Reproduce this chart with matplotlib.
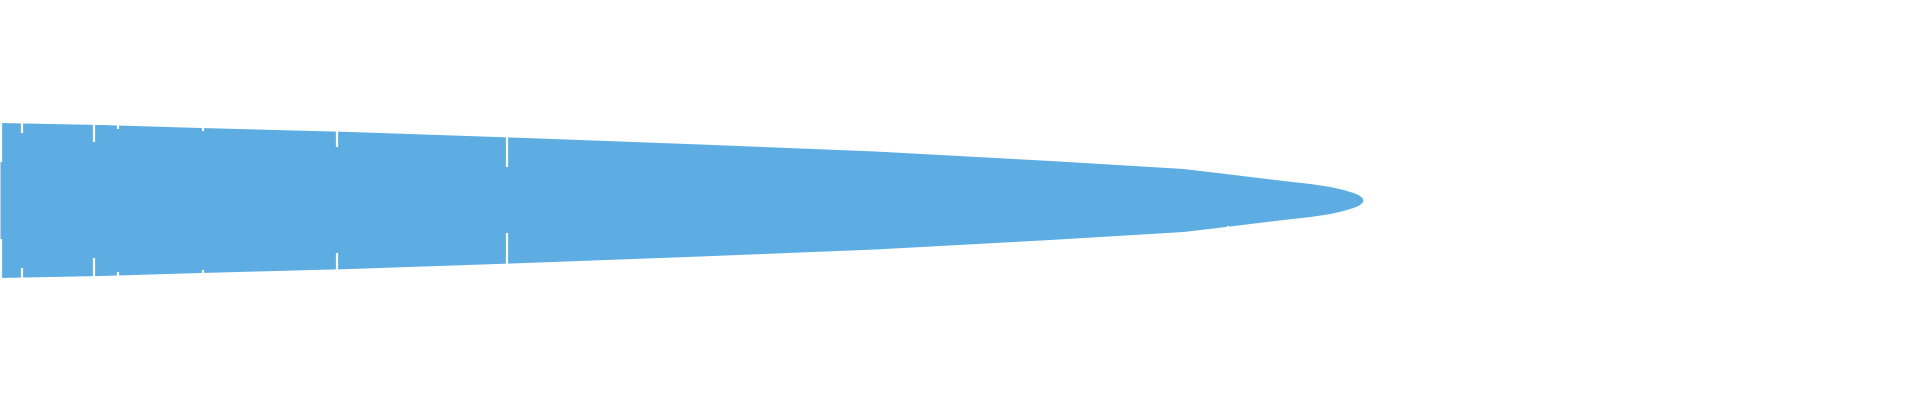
import numpy as np
import matplotlib.pyplot as plt

# outline of the shape: position along the axis and half-thickness (mirrored around 0)
pos = [0, 100, 200, 350, 525, 700, 875, 1050, 1150, 1183, 1217, 1250, 1283, 1310,
       1330, 1343, 1353, 1358, 1362, 1363]
half = [77.5, 75.5, 72.5, 68.5, 62.5, 56, 49, 39.5, 33.5, 31.5, 27.5, 23.5, 19.5, 16.5,
        13.5, 10.5, 7.5, 5.5, 2.5, 0]

# thin seams between pieces, with the depth at which each one stops
seam_pos = [0.5, 22, 94, 118, 203, 337, 507, 1228]
seam_inner = [38.5, 67.5, 58, 71.5, 69.5, 53, 33, 26]

color = '#5dade2'

fig = plt.figure(figsize=(19.2, 4), dpi=100)
ax = fig.add_axes([0, 0, 1, 1])

pos = np.array(pos)
half = np.array(half)
ax.fill_between(pos, -half, half, color=color, lw=0, antialiased=False)

for x, inner in zip(seam_pos, seam_inner):
    outer = np.interp(x, pos, half) + 2
    ax.vlines(x, inner, outer, color='white', lw=1.6)
    ax.vlines(x, -outer, -inner, color='white', lw=1.6)

ax.set_xlim(0, 1920)
ax.set_ylim(-200, 200)
ax.axis('off')

fig.savefig('out.png', dpi=100, facecolor='white')
